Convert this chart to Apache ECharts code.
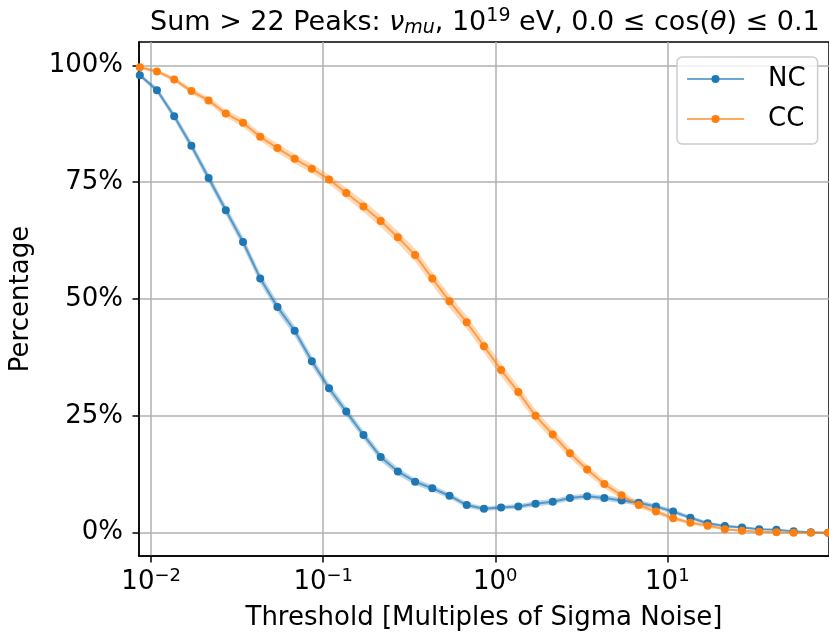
<!DOCTYPE html>
<html>
<head>
<meta charset="utf-8">
<title>Sum > 22 Peaks</title>
<script src="https://cdn.jsdelivr.net/npm/echarts@6/dist/echarts.min.js"></script>
<style>
html, body { margin: 0; padding: 0; background: #fff; }
#chart { width: 829px; height: 636px; }
</style>
</head>
<body>
<div id="chart"></div>
<script>
// thresholds (multiples of sigma noise), log spaced
var thresholds = [0.00859, 0.01081, 0.01361, 0.01714, 0.02158, 0.02716, 0.03420, 0.04305, 0.05420, 0.06823,
    0.0859, 0.1081, 0.1361, 0.1714, 0.2158, 0.2716, 0.3420, 0.4305, 0.5420, 0.6823,
    0.859, 1.081, 1.361, 1.714, 2.158, 2.716, 3.420, 4.305, 5.420, 6.823,
    8.59, 10.81, 13.61, 17.14, 21.58, 27.16, 34.20, 43.05, 54.20, 68.23, 85.90];

// percentage passing
var nc = [97.9, 94.7, 89.1, 82.8, 75.9, 69.0, 62.2, 54.4, 48.3, 43.2,
    36.7, 30.9, 25.9, 20.9, 16.2, 13.1, 10.9, 9.5, 7.9, 5.9,
    5.1, 5.4, 5.6, 6.2, 6.6, 7.4, 7.8, 7.4, 6.9, 6.4,
    5.6, 4.5, 3.2, 2.0, 1.4, 1.1, 0.75, 0.6, 0.3, 0.1, 0.0];
var cc = [99.6, 98.7, 97.0, 94.5, 92.5, 89.7, 87.7, 84.7, 82.3, 80.0,
    77.9, 75.6, 72.7, 69.8, 66.7, 63.2, 59.4, 54.4, 49.5, 45.0,
    39.9, 34.8, 30.1, 25.0, 21.0, 17.0, 13.5, 10.4, 8.0, 5.9,
    4.5, 3.1, 2.1, 1.5, 0.75, 0.4, 0.2, 0.1, 0.0, 0.0, 0.0];

// half width of the shaded band
var ncErr = [0.4, 0.6, 0.8, 0.9, 1.0, 1.0, 1.1, 1.1, 1.1, 1.1,
    1.1, 1.0, 1.0, 0.9, 0.9, 0.8, 0.7, 0.7, 0.6, 0.6,
    0.5, 0.5, 0.5, 0.6, 0.6, 0.6, 0.6, 0.6, 0.6, 0.6,
    0.5, 0.5, 0.4, 0.4, 0.3, 0.3, 0.2, 0.2, 0.1, 0.1, 0.1];
var ccErr = [0.3, 0.4, 0.5, 0.6, 0.7, 0.8, 0.9, 0.9, 1.0, 1.0,
    1.0, 1.0, 1.1, 1.2, 1.3, 1.3, 1.4, 1.4, 1.4, 1.4,
    1.4, 1.4, 1.3, 1.3, 1.2, 1.1, 1.0, 0.9, 0.8, 0.7,
    0.5, 0.5, 0.4, 0.4, 0.3, 0.2, 0.2, 0.1, 0.1, 0.1, 0.1];

var yTicks = [0, 25, 50, 75, 100];
var xTicks = [0.01, 0.1, 1, 10];

var FONT = 'DejaVu Sans';
var BLUE = '#1f77b4', ORANGE = '#ff7f0e';

function pairs(ys) {
    return thresholds.map(function (x, i) { return [x, ys[i]]; });
}

// shaded band drawn as one polygon
function band(name, ys, err, color) {
    var data = thresholds.map(function (x, i) { return [x, ys[i] - err[i], ys[i] + err[i]]; });
    return {
        type: 'custom', name: name, data: data, silent: true, z: 1, clip: true,
        encode: { x: 0, y: [1, 2] },
        renderItem: function (params, api) {
            if (params.dataIndexInside !== 0) return;
            var n = params.dataInsideLength, up = [], lo = [];
            for (var i = 0; i < n; i++) {
                var x = api.value(0, i);
                up.push(api.coord([x, api.value(2, i)]));
                lo.unshift(api.coord([x, api.value(1, i)]));
            }
            return { type: 'polygon', shape: { points: up.concat(lo) }, style: { fill: color, opacity: 0.3 } };
        }
    };
}

function line(name, ys, color) {
    return {
        type: 'line', name: name, data: pairs(ys), z: 3, clip: false,
        symbol: 'circle', symbolSize: 8, showSymbol: true,
        lineStyle: { color: color, width: 2, opacity: 0.65 },
        itemStyle: { color: color }
    };
}

var chart = echarts.init(document.getElementById('chart'), null, { renderer: 'canvas' });
var option = {
    animation: false,
    backgroundColor: '#fff',
    title: {
        text: '{a|Sum > 22 Peaks: }{i|ν}{sub|mu}{a|, 10}{sup|19}{a| eV, 0.0 ≤ cos(}{i|θ}{a|) ≤ 0.1}',
        left: 145, top: 2,
        textStyle: {
            fontWeight: 'normal',
            rich: {
                a: { fontFamily: FONT, fontSize: 27, fontWeight: 'normal', color: '#000' },
                i: { fontFamily: FONT, fontSize: 27, fontWeight: 'normal', fontStyle: 'italic', color: '#000' },
                sub: { fontFamily: FONT, fontSize: 19, fontWeight: 'normal', fontStyle: 'italic', color: '#000', padding: [11, 0, 0, 0] },
                sup: { fontFamily: FONT, fontSize: 19, fontWeight: 'normal', color: '#000', padding: [0, 0, 13, 0] }
            }
        }
    },
    legend: {
        data: ['NC', 'CC'],
        orient: 'vertical',
        left: 677, top: 57,
        padding: [9, 12, 12, 9],
        itemGap: 14, itemWidth: 57, itemHeight: 10,
        backgroundColor: 'rgba(255,255,255,0.8)',
        borderColor: '#cccccc', borderWidth: 1.5, borderRadius: 5,
        textStyle: { fontFamily: FONT, fontSize: 26, color: '#000', lineHeight: 26, padding: [0, 0, 0, 19] }
    },
    grid: {
        left: 138, right: -2, top: 42, bottom: 78,
        show: true, borderColor: '#000', borderWidth: 1.5, backgroundColor: 'transparent'
    },
    xAxis: {
        type: 'log', logBase: 10, min: 0.0085, max: 87,
        name: 'Threshold [Multiples of Sigma Noise]',
        nameLocation: 'middle', nameGap: 49,
        nameTextStyle: { fontFamily: FONT, fontSize: 26, color: '#000' },
        axisLine: { onZero: false, lineStyle: { color: '#000', width: 1.5 } },
        axisTick: { customValues: xTicks, length: 6.5, lineStyle: { color: '#000', width: 1.5 } },
        minorTick: { show: false },
        splitLine: { show: true, lineStyle: { color: '#b0b0b0', width: 1.5 } },
        axisLabel: {
            customValues: xTicks, margin: 11,
            formatter: function (v) {
                var e = Math.round(Math.log10(v));
                return '{b|10}{s|' + (e < 0 ? '\u2212' : '') + Math.abs(e) + '}';
            },
            rich: {
                b: { fontFamily: FONT, fontSize: 26, color: '#000' },
                s: { fontFamily: FONT, fontSize: 18, color: '#000', padding: [0, 0, 12, 0] }
            }
        }
    },
    yAxis: {
        type: 'value', min: -5, max: 105,
        name: 'Percentage',
        nameLocation: 'middle', nameGap: 105,
        nameTextStyle: { fontFamily: FONT, fontSize: 26, color: '#000' },
        axisLine: { show: true, onZero: false, lineStyle: { color: '#000', width: 1.5 } },
        axisTick: { show: true, customValues: yTicks, length: 6.5, lineStyle: { color: '#000', width: 1.5 } },
        splitLine: { show: true, lineStyle: { color: '#b0b0b0', width: 1.5 } },
        axisLabel: {
            customValues: yTicks, margin: 16,
            fontFamily: FONT, fontSize: 26, color: '#000',
            formatter: '{value}%'
        }
    },
    series: [
        band('NC band', nc, ncErr, BLUE),
        band('CC band', cc, ccErr, ORANGE),
        line('NC', nc, BLUE),
        line('CC', cc, ORANGE)
    ]
};
chart.setOption(option);
</script>
</body>
</html>
